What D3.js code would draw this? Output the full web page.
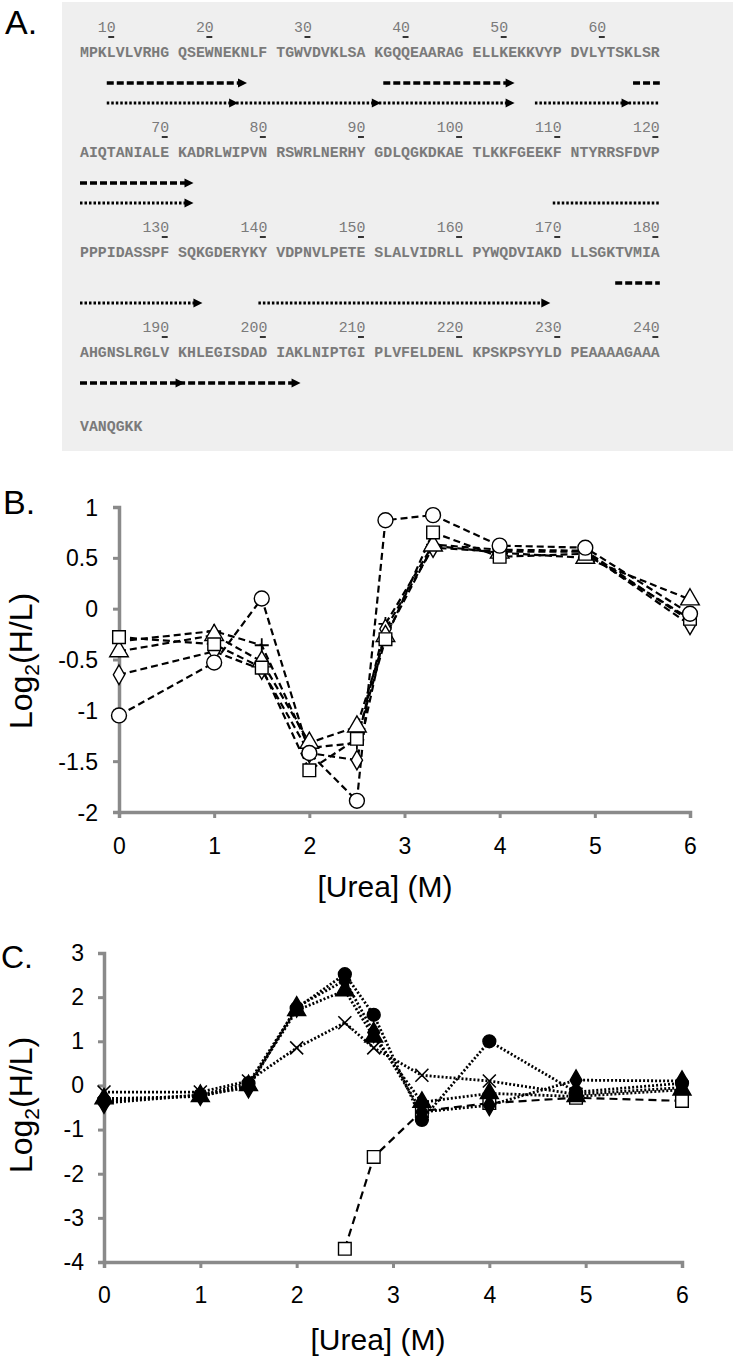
<!DOCTYPE html>
<html><head><meta charset="utf-8">
<script src="https://cdn.jsdelivr.net/npm/d3@7"></script>
<style>
html,body{margin:0;padding:0;background:#fff;}
svg{display:block;}
</style></head>
<body>
<svg id="fig" width="733" height="1363"></svg>
<script>
// ---------- DATA ----------
const seqRows = [
  ["MPKLVLVRHG","QSEWNEKNLF","TGWVDVKLSA","KGQQEAARAG","ELLKEKKVYP","DVLYTSKLSR"],
  ["AIQTANIALE","KADRLWIPVN","RSWRLNERHY","GDLQGKDKAE","TLKKFGEEKF","NTYRRSFDVP"],
  ["PPPIDASSPF","SQKGDERYKY","VDPNVLPETE","SLALVIDRLL","PYWQDVIAKD","LLSGKTVMIA"],
  ["AHGNSLRGLV","KHLEGISDAD","IAKLNIPTGI","PLVFELDENL","KPSKPSYYLD","PEAAAAGAAA"],
  ["VANQGKK"]
];
const residueLabels = [
  ["10","20","30","40","50","60"],
  ["70","80","90","100","110","120"],
  ["130","140","150","160","170","180"],
  ["190","200","210","220","230","240"]
];
const dashedPeptides = [[4,18],[32,45],[58,72],[176,191],[191,203]];
const dottedPeptides = [[4,17],[17,31],[31,45],[48,57],[57,72],[110,133],[140,169]];

const urea = [0, 1, 1.5, 2, 2.5, 2.8, 3.3, 4, 4.9, 6];
const xTicks = [0, 1, 2, 3, 4, 5, 6];

const bCircle   = [-1.05, -0.53,  0.10, -1.42, -1.89,  0.87, 0.92, 0.62, 0.60, -0.05];
const bSquare   = [-0.28, -0.35, -0.58, -1.59, -1.28, -0.30, 0.75, 0.51, 0.54, -0.10];
const bTriangle = [-0.42, -0.26, -0.52, -1.32, -1.16, -0.27, 0.62, 0.55, 0.50,  0.09];
const bDiamond  = [-0.65, -0.42, -0.60, -1.42, -1.49, -0.20, 0.60, 0.56, 0.56, -0.16];
const bPlus     = [-0.32, -0.22, -0.36, -1.37, -1.32, -0.15, 0.63, 0.58, 0.57, -0.12];
const bTicks = [1, 0.5, 0, -0.5, -1, -1.5, -2];

const cCircle   = [-0.35, -0.22,  0.05, 1.75, 2.52, 1.60, -0.78, 1.00, -0.15,  0.05];
const cTriangle = [-0.30, -0.25,  0.00, 1.70, 2.15, 1.10, -0.38, -0.18, -0.25, -0.10];
const cDiamond  = [-0.40, -0.22, -0.05, 1.78, 2.38, 1.20, -0.60, -0.45,  0.12,  0.10];
const cCross    = [-0.15, -0.15,  0.10, 0.85, 1.42, 0.85,  0.23,  0.10, -0.20, -0.05];
const cSquare   = [null, null, null, null, -3.70, -1.62, -0.58, -0.40, -0.28, -0.35];
const cTicks = [3, 2, 1, 0, -1, -2, -3, -4];

// ---------- SETUP ----------
const svg = d3.select("#fig");
const SANS = "'Liberation Sans', Arial, sans-serif";
const MONO = "'Liberation Mono', 'DejaVu Sans Mono', monospace";

// ---------- PANEL A ----------
const boxX = 62, boxY = 2, boxW = 671, boxH = 449;
svg.append("rect").attr("x", boxX).attr("y", boxY).attr("width", boxW).attr("height", boxH)
   .attr("fill", "#efefef");
svg.append("text").attr("x", 5).attr("y", 34).attr("font-family", SANS).attr("font-size", 34)
   .attr("fill", "#000").text("A.");

const seqX0 = 80, pitch = 8.92, fontMono = pitch / 0.6;
const rowY = [52, 152, 252, 352, 426];
const seqColor = "#7a7a7a";
function xLeft(col) { return seqX0 + (col + Math.floor(col / 10)) * pitch; }

const gA = svg.append("g");
seqRows.forEach((blocks, r) => {
  blocks.forEach((b, k) => {
    gA.append("text").attr("x", seqX0 + k * 11 * pitch).attr("y", rowY[r] + 5)
      .attr("font-family", MONO).attr("font-size", fontMono).attr("fill", seqColor)
      .attr("font-weight", "bold").text(b);
  });
});
residueLabels.forEach((labs, r) => {
  const shift = r === 0 ? -6 * pitch : 0;
  labs.forEach((lab, k) => {
    const right = seqX0 + (k * 11 + 10) * pitch + shift;
    gA.append("text").attr("x", right).attr("y", rowY[r] - 20)
      .attr("text-anchor", "end").attr("font-family", MONO).attr("font-size", fontMono)
      .attr("fill", seqColor).text(lab);
    gA.append("line").attr("x1", right - pitch + 1.5).attr("x2", right - 1.5)
      .attr("y1", rowY[r] - 15).attr("y2", rowY[r] - 15)
      .attr("stroke", "#333").attr("stroke-width", 2);
  });
});

function drawPeptide(seg, dy, dash, width) {
  const [a, b] = seg;
  const ra = Math.floor((a - 1) / 60), rb = Math.floor((b - 1) / 60);
  for (let r = ra; r <= rb; r++) {
    const ca = r === ra ? (a - 1) % 60 : 0;
    const x1 = xLeft(ca);
    let x2;
    if (r === rb) x2 = xLeft((b - 1) % 60) + pitch * 0.5;
    else x2 = xLeft(59) + pitch;
    const y = rowY[r] + dy;
    gA.append("line").attr("x1", x1).attr("x2", r === rb ? x2 - 5 : x2).attr("y1", y).attr("y2", y)
      .attr("stroke", "#000").attr("stroke-width", width).attr("stroke-dasharray", dash);
    if (r === rb) {
      gA.append("path").attr("d", `M${x2 + 2},${y} L${x2 - 7},${y - 4.5} L${x2 - 7},${y + 4.5} Z`)
        .attr("fill", "#000");
    }
  }
}
dashedPeptides.forEach(s => drawPeptide(s, 31, "7,3", 3.5));
dottedPeptides.forEach(s => drawPeptide(s, 51, "2.5,2", 3.2));

// ---------- helpers ----------
const plusPath = s => `M${-s},0H${s}M0,${-s}V${s}`;
const crossPath = s => `M${-s},${-s}L${s},${s}M${-s},${s}L${s},${-s}`;

function styleAxis(g) {
  g.select(".domain").attr("stroke", "#8a8a8a").attr("stroke-width", 3.5);
  g.selectAll(".tick line").attr("stroke", "#8a8a8a").attr("stroke-width", 3);
  g.selectAll(".tick text").attr("font-family", SANS).attr("font-size", 23).attr("fill", "#000");
}
function yTitle(cx, cy) {
  const t = svg.append("text").attr("transform", `translate(${cx},${cy}) rotate(-90)`)
    .attr("text-anchor", "middle").attr("font-family", SANS).attr("font-size", 32).attr("fill", "#000");
  t.append("tspan").text("Log");
  t.append("tspan").attr("font-size", 21).attr("dy", 7).text("2");
  t.append("tspan").attr("dy", -7).text("(H/L)");
}

// ---------- PANEL B ----------
const xB = d3.scaleLinear().domain([0, 6]).range([119, 690]);
const yB = d3.scaleLinear().domain([-2, 1]).range([812, 507]);
svg.append("text").attr("x", 3).attr("y", 514).attr("font-family", SANS).attr("font-size", 34).text("B.");
const gBx = svg.append("g").attr("transform", `translate(0,${yB(-2)})`)
  .call(d3.axisBottom(xB).tickValues(xTicks).tickFormat(d3.format("d")).tickSize(6).tickPadding(20));
styleAxis(gBx);
const gBy = svg.append("g").attr("transform", `translate(${xB(0)},0)`)
  .call(d3.axisLeft(yB).tickValues(bTicks).tickFormat(d => String(d)).tickSize(6).tickPadding(15));
styleAxis(gBy);
gBy.selectAll(".tick text").attr("dy", "0.35em");
yTitle(32, 661);
svg.append("text").attr("x", 385).attr("y", 897).attr("text-anchor", "middle")
  .attr("font-family", SANS).attr("font-size", 30).text("[Urea] (M)");

const bSeries = [
  {v: bPlus, m: "plus"}, {v: bDiamond, m: "diamond"}, {v: bTriangle, m: "triangle"},
  {v: bSquare, m: "square"}, {v: bCircle, m: "circle"}
];
const lineB = d3.line().defined(d => d[1] != null).x(d => xB(d[0])).y(d => yB(d[1]));
const gB = svg.append("g");
bSeries.forEach(s => {
  gB.append("path").attr("d", lineB(urea.map((x, i) => [x, s.v[i]])))
    .attr("fill", "none").attr("stroke", "#000").attr("stroke-width", 2.2).attr("stroke-dasharray", "7,4");
});
function marker(g, m, x, y, filled) {
  const fill = filled ? "#000" : "#fff";
  if (m === "plus") {
    g.append("path").attr("transform", `translate(${x},${y})`).attr("d", plusPath(7))
      .attr("stroke", "#000").attr("stroke-width", 1.8).attr("fill", "none");
  } else if (m === "cross") {
    g.append("path").attr("transform", `translate(${x},${y})`).attr("d", crossPath(6.5))
      .attr("stroke", "#000").attr("stroke-width", 1.6).attr("fill", "none");
  } else {
    const type = {circle: d3.symbolCircle, square: d3.symbolSquare, triangle: d3.symbolTriangle, diamond: d3.symbolDiamond}[m];
    const size = filled ? {circle: 130, square: 150, triangle: 140, diamond: 120}[m]
                        : {circle: 175, square: 160, triangle: 150, diamond: 110}[m];
    g.append("path").attr("transform", `translate(${x},${y})`).attr("d", d3.symbol().type(type).size(size)())
      .attr("fill", fill).attr("stroke", "#000").attr("stroke-width", 1.4);
  }
}
bSeries.forEach(s => {
  urea.forEach((x, i) => { if (s.v[i] != null) marker(gB, s.m, xB(x), yB(s.v[i]), false); });
});

// ---------- PANEL C ----------
const xC = d3.scaleLinear().domain([0, 6]).range([104, 682]);
const yC = d3.scaleLinear().domain([-4, 3]).range([1262, 953]);
svg.append("text").attr("x", 1).attr("y", 968).attr("font-family", SANS).attr("font-size", 32).text("C.");
const gCx = svg.append("g").attr("transform", `translate(0,${yC(-4)})`)
  .call(d3.axisBottom(xC).tickValues(xTicks).tickFormat(d3.format("d")).tickSize(6).tickPadding(19));
styleAxis(gCx);
const gCy = svg.append("g").attr("transform", `translate(${xC(0)},0)`)
  .call(d3.axisLeft(yC).tickValues(cTicks).tickFormat(d => String(d)).tickSize(6).tickPadding(14));
styleAxis(gCy);
yTitle(32, 1105);
svg.append("text").attr("x", 378).attr("y", 1350).attr("text-anchor", "middle")
  .attr("font-family", SANS).attr("font-size", 30).text("[Urea] (M)");

const lineC = d3.line().defined(d => d[1] != null).x(d => xC(d[0])).y(d => yC(d[1]));
const cSeries = [
  {v: cSquare, m: "square", filled: false, dash: "8,5", w: 2.2},
  {v: cCross, m: "cross", filled: true, dash: "2,2", w: 2.8},
  {v: cTriangle, m: "triangle", filled: true, dash: "2,2", w: 2.8},
  {v: cDiamond, m: "diamond", filled: true, dash: "2,2", w: 2.8},
  {v: cCircle, m: "circle", filled: true, dash: "2,2", w: 2.8}
];
const gC = svg.append("g");
cSeries.forEach(s => {
  gC.append("path").attr("d", lineC(urea.map((x, i) => [x, s.v[i]])))
    .attr("fill", "none").attr("stroke", "#000").attr("stroke-width", s.w).attr("stroke-dasharray", s.dash);
});
cSeries.forEach(s => {
  urea.forEach((x, i) => { if (s.v[i] != null) marker(gC, s.m, xC(x), yC(s.v[i]), s.filled); });
});
</script>
</body></html>
